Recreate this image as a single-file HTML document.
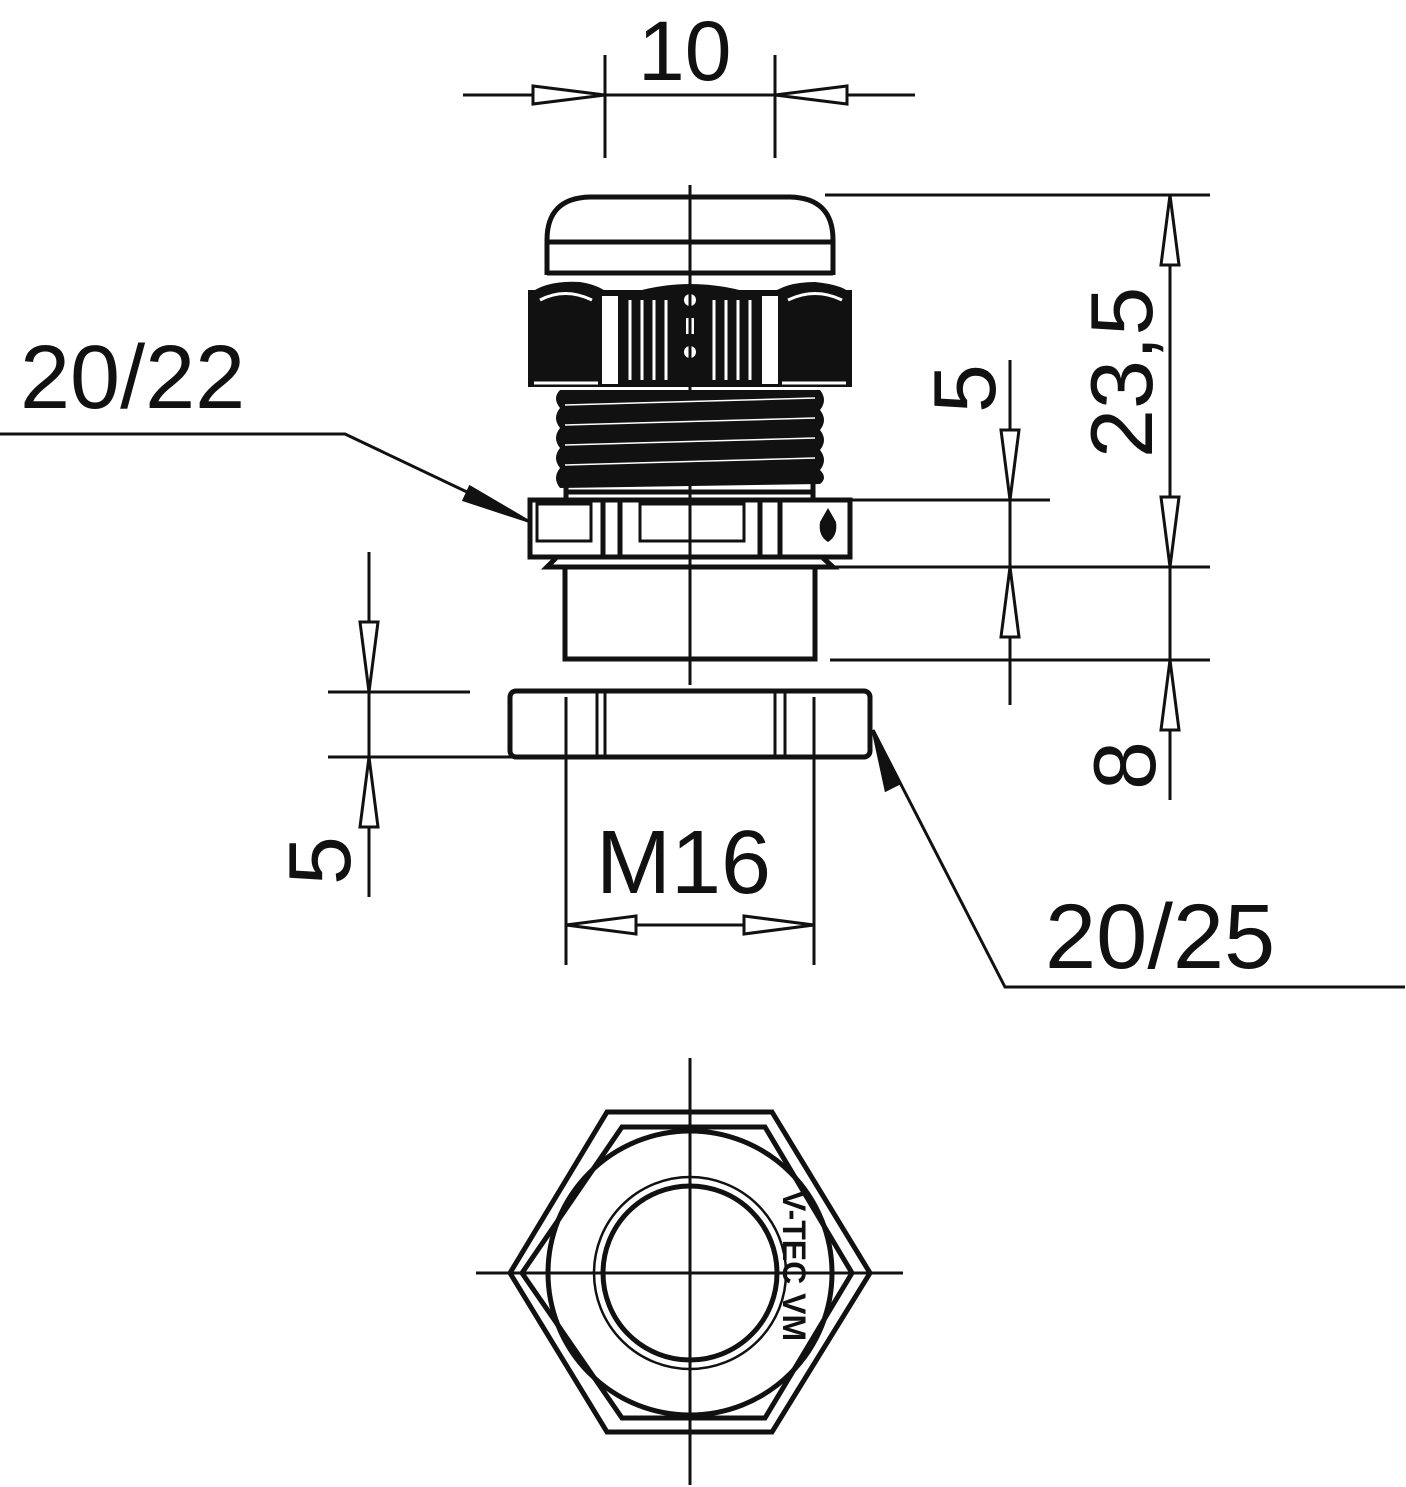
<!DOCTYPE html>
<html><head><meta charset="utf-8"><style>html,body{margin:0;padding:0;background:#fff}svg{display:block}text{font-family:"Liberation Sans",sans-serif;fill:#111}</style></head><body>
<svg width="1406" height="1487" viewBox="0 0 1406 1487" xmlns="http://www.w3.org/2000/svg">
<g stroke="#111" fill="none" stroke-width="3">
<line x1="463" y1="95" x2="915" y2="95"/>
<line x1="605" y1="55" x2="605" y2="158"/>
<line x1="775" y1="55" x2="775" y2="158"/>
<polygon points="533,86 533,104 605,95" fill="#fff"/>
<polygon points="847,86 847,104 775,95" fill="#fff"/>
<line x1="825" y1="195" x2="1210" y2="195"/>
<line x1="830" y1="567" x2="1210" y2="567"/>
<line x1="830" y1="660" x2="1210" y2="660"/>
<line x1="850" y1="500" x2="1050" y2="500"/>
<line x1="1170" y1="195" x2="1170" y2="800"/>
<polygon points="1161,265 1179,265 1170,195" fill="#fff"/>
<polygon points="1161,497 1179,497 1170,567" fill="#fff"/>
<polygon points="1161,730 1179,730 1170,660" fill="#fff"/>
<line x1="1010" y1="360" x2="1010" y2="705"/>
<polygon points="1001,430 1019,430 1010,500" fill="#fff"/>
<polygon points="1001,637 1019,637 1010,567" fill="#fff"/>
<line x1="369" y1="552" x2="369" y2="897"/>
<line x1="328" y1="692" x2="470" y2="692"/>
<line x1="328" y1="757" x2="600" y2="757"/>
<polygon points="360,622 378,622 369,692" fill="#fff"/>
<polygon points="360,827 378,827 369,757" fill="#fff"/>
<line x1="566" y1="697" x2="566" y2="965"/>
<line x1="814" y1="697" x2="814" y2="965"/>
<line x1="566" y1="925" x2="814" y2="925"/>
<polygon points="636,916 636,934 566,925" fill="#fff"/>
<polygon points="744,916 744,934 814,925" fill="#fff"/>
<polyline points="0,434 345,434 528,521"/>
<polygon points="528,521 464,500 470,487" fill="#111"/>
<polyline points="1405,987 1005,987 873,730"/>
<polygon points="873,730 886,790 900,783" fill="#111"/>
<line x1="690" y1="185" x2="690" y2="685"/>
</g>
<g stroke="#111" fill="none" stroke-width="5">
<path d="M547,275 L547,240 Q547,198 590,197 L790,197 Q833,198 833,240 L833,275"/>
<line x1="547" y1="242" x2="833" y2="242"/>
<line x1="547" y1="273" x2="833" y2="273"/>
</g>
<rect x="528" y="290" width="324" height="97" fill="#111"/>
<path d="M528,295 Q545,280 580,282 Q600,285 610,295 L770,295 Q785,282 815,282 Q845,285 852,295 Z" fill="#111"/>
<path d="M622,296 Q690,272 760,296 Z" fill="#111"/>
<rect x="602" y="296" width="16" height="88" fill="#fff"/>
<rect x="762" y="296" width="16" height="88" fill="#fff"/>
<g stroke="#fff" stroke-width="3">
<line x1="630" y1="300" x2="630" y2="380"/><line x1="642" y1="300" x2="642" y2="380"/><line x1="654" y1="300" x2="654" y2="380"/><line x1="666" y1="300" x2="666" y2="380"/>
<line x1="714" y1="300" x2="714" y2="380"/><line x1="726" y1="300" x2="726" y2="380"/><line x1="738" y1="300" x2="738" y2="380"/><line x1="750" y1="300" x2="750" y2="380"/>
<path d="M540,300 Q565,287 592,300" fill="none"/><path d="M788,300 Q815,287 842,300" fill="none"/>
<line x1="534" y1="383" x2="598" y2="383"/><line x1="782" y1="383" x2="846" y2="383"/>
</g>
<g fill="#fff"><circle cx="690" cy="300" r="6"/><circle cx="690" cy="352" r="6"/><rect x="686" y="318" width="8" height="16"/></g>
<line x1="690" y1="185" x2="690" y2="390" stroke="#111" stroke-width="3"/>
<path d="M560,390 L820,390 Q828,400 820,410 Q828,420 820,430 Q828,440 820,450 Q828,460 820,470 Q828,478 820,484 L560,488 Q552,478 560,468 Q552,458 560,448 Q552,438 560,428 Q552,418 560,408 Q552,398 560,390 Z" fill="#111"/>
<g stroke="#fff" stroke-width="1.5"><line x1="565" y1="405" x2="815" y2="398"/><line x1="565" y1="425" x2="815" y2="418"/><line x1="565" y1="445" x2="815" y2="438"/><line x1="565" y1="465" x2="815" y2="458"/></g>
<g stroke="#111" fill="none" stroke-width="5">
<line x1="566" y1="487" x2="566" y2="498"/><line x1="813" y1="484" x2="813" y2="498"/>
<line x1="566" y1="492" x2="813" y2="492"/>
<rect x="530" y="500" width="320" height="57"/>
<rect x="537" y="504" width="54" height="37" stroke-width="3"/>
<line x1="603" y1="500" x2="603" y2="557"/><line x1="620" y1="500" x2="620" y2="557"/>
<rect x="640" y="504" width="104" height="37" stroke-width="3"/>
<line x1="760" y1="500" x2="760" y2="557"/><line x1="780" y1="500" x2="780" y2="557"/>
<path d="M556,558 L547,567 L833,567 L823,558"/>
<rect x="565" y="567" width="250" height="92"/>
<rect x="510" y="691" width="360" height="66" rx="6"/>
<line x1="597" y1="691" x2="597" y2="757" stroke-width="3"/><line x1="605" y1="691" x2="605" y2="757" stroke-width="3"/>
<line x1="775" y1="691" x2="775" y2="757" stroke-width="3"/><line x1="785" y1="691" x2="785" y2="757" stroke-width="3"/>
</g>
<path d="M828,508 L836,522 Q838,536 828,542 Q818,536 820,522 Z" fill="#111"/>
<line x1="690" y1="490" x2="690" y2="685" stroke="#111" stroke-width="3"/>
<line x1="566" y1="697" x2="566" y2="965" stroke="#111" stroke-width="3"/>
<line x1="814" y1="697" x2="814" y2="965" stroke="#111" stroke-width="3"/>
<g stroke="#111" fill="none" stroke-width="5">
<polygon points="607,1112 772,1112 870,1273 772,1432 607,1432 510,1273"/>
<polygon points="622,1127 765,1127 852,1273 765,1418 622,1418 522,1273"/>
<circle cx="690" cy="1273" r="142"/>
<circle cx="690" cy="1273" r="87"/>
<circle cx="690" cy="1273" r="96" stroke-width="2.5"/>
</g>
<g stroke="#111" stroke-width="3"><line x1="476" y1="1273" x2="903" y2="1273"/><line x1="690" y1="1058" x2="690" y2="1485"/></g>
<text x="0" y="0" font-size="32" font-weight="bold" transform="translate(783,1190) rotate(90)">V-TEC VM</text>
<text x="638" y="80" font-size="84">10</text>
<text x="20" y="408" font-size="90">20/22</text>
<text x="596" y="893" font-size="90">M16</text>
<text x="1045" y="968" font-size="92">20/25</text>
<text font-size="88" transform="translate(1152,458) rotate(-90)">23,5</text>
<text font-size="88" transform="translate(1155,790) rotate(-90)">8</text>
<text font-size="88" transform="translate(995,413) rotate(-90)">5</text>
<text font-size="88" transform="translate(350,885) rotate(-90)">5</text>
</svg>
</body></html>
